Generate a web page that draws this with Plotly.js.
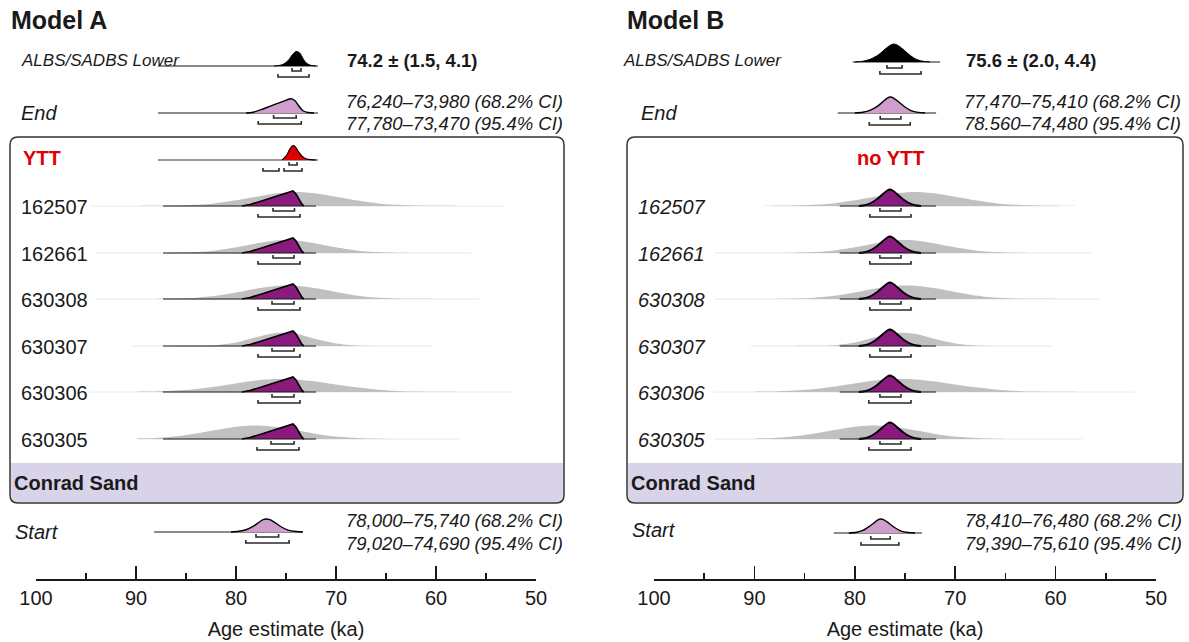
<!DOCTYPE html>
<html><head><meta charset="utf-8">
<script src="https://cdn.plot.ly/plotly-3.0.1.min.js"></script>
<style>html,body{margin:0;padding:0;background:#fff}#chart{width:1189px;height:642px}</style>
</head><body><div id="chart"></div>
<script>
// ================= DATA (ages in ka; densities relative) =================
const sampleNames = ['162507', '162661', '630308', '630307', '630306', '630305'];
const majorTicks = [100, 90, 80, 70, 60, 50];
const minorTicks = [95, 85, 75, 65, 55];

// Grey likelihoods of the six samples, read at these ages
const likKa      = [90, 88, 86, 84, 82, 80, 78, 76, 74, 72, 70, 68, 66, 64, 62, 60, 58, 56, 54];
const lik162507  = [0, .01, .03, .08, .19, .38, .62, .84, .93, .84, .62, .38, .19, .08, .03, .01, .004, .002, 0];
const lik162661  = [0, .003, .016, .06, .17, .38, .64, .84, .84, .64, .38, .17, .06, .016, .004, .001, 0, 0, 0];
const lik630308  = [0, .008, .03, .09, .22, .44, .69, .87, .88, .71, .47, .24, .10, .036, .009, .002, 0, 0, 0];
const lik630307  = [0, 0, .001, .009, .057, .23, .58, .87, .81, .46, .16, .034, .005, 0, 0, 0, 0, 0, 0];
const lik630306  = [.014, .04, .10, .20, .37, .57, .76, .86, .84, .70, .50, .31, .17, .074, .029, .01, .003, 0, 0];
const lik630305  = [.023, .072, .18, .37, .60, .82, .90, .80, .58, .34, .16, .064, .021, .005, 0, 0, 0, 0, 0];
const likTailA   = [[94.6, 53.2], [94.0, 56.5], [94.0, 55.7], [90.3, 60.3], [94.6, 52.3], [89.8, 57.6]];
const likTailB   = [[88.3, 59.6], [94.0, 56.5], [94.0, 55.6], [90.4, 60.4], [94.0, 52.2], [94.0, 57.4]];

// ---- Model A ----
const albsKaA  = [76.2, 75.4, 74.8, 74.4, 74.1, 73.9, 73.6, 73.3, 73.0, 72.6, 72.0];
const albsA    = [0, .08, .35, .72, .93, .97, .85, .50, .22, .06, 0];
const albsCiA  = [[74.4, 73.5], [75.8, 72.7]];
const albsTextA = '74.2 ± (1.5, 4.1)';
const endKaA   = [79.0, 78.3, 77.5, 76.5, 75.5, 74.9, 74.5, 74.1, 73.7, 73.3, 72.8, 72.2];
const endA     = [0, .05, .22, .48, .72, .88, .95, .82, .45, .15, .03, 0];
const endCiA   = [[76.24, 73.98], [77.78, 73.47]];
const endTextA = ['76,240–73,980 (68.2% CI)', '77,780–73,470 (95.4% CI)'];
const yttKaA   = [75.4, 74.9, 74.6, 74.35, 74.1, 73.8, 73.4, 73.0, 72.5, 72.0];
const yttA     = [0, .35, .75, .95, .90, .60, .25, .08, .02, 0];
const yttCi68A = [[74.7, 73.9]];
const yttCi95A = [[77.3, 75.7], [75.2, 73.4]];
const postKaA  = [79.4, 78.6, 77.6, 76.6, 75.6, 75.0, 74.6, 74.3, 74.0, 73.7, 73.4, 73.2];
const postA    = [0, .10, .30, .52, .74, .88, .97, 1.0, .80, .42, .10, 0];
const ci68A    = [[76.3, 74.15], [76.3, 74.2], [76.4, 74.2], [76.4, 74.2], [76.4, 74.2], [76.5, 74.2]];
const ci95A    = [[77.8, 73.6], [77.8, 73.6], [77.8, 73.6], [77.8, 73.6], [77.8, 73.6], [77.9, 73.7]];
const startKaA = [80.5, 79.7, 79.0, 78.3, 77.7, 77.3, 76.95, 76.6, 76.1, 75.5, 74.8, 74.0, 73.3];
const startA   = [0, .05, .15, .38, .65, .82, .87, .82, .62, .35, .13, .03, 0];
const startCiA = [[78.00, 75.74], [79.02, 74.69]];
const startTextA = ['78,000–75,740 (68.2% CI)', '79,020–74,690 (95.4% CI)'];

// ---- Model B ----
const albsKaB  = [80.0, 79.2, 78.4, 77.6, 77.0, 76.5, 76.1, 75.7, 75.2, 74.6, 74.0, 73.3, 72.5];
const albsB    = [0, .05, .20, .50, .85, 1.10, 1.20, 1.10, .85, .50, .22, .06, 0];
const albsCiB  = [[76.8, 75.3], [77.5, 73.4]];
const albsTextB = '75.6 ± (2.0, 4.4)';
const endKaB   = [80.0, 79.2, 78.5, 77.8, 77.2, 76.8, 76.45, 76.1, 75.6, 75.0, 74.4, 73.7, 73.0];
const endB     = [0, .05, .17, .42, .75, .98, 1.07, .98, .72, .40, .16, .04, 0];
const endCiB   = [[77.47, 75.41], [78.56, 74.48]];
const endTextB = ['77,470–75,410 (68.2% CI)', '78.560–74,480 (95.4% CI)'];
const postKaB  = [79.6, 79.0, 78.4, 77.8, 77.2, 76.8, 76.5, 76.2, 75.8, 75.2, 74.6, 74.0, 73.4];
const postB    = [0, .05, .20, .45, .80, 1.02, 1.10, 1.02, .80, .45, .20, .05, 0];
const ci68B    = [[77.5, 75.4], [77.5, 75.4], [77.5, 75.4], [77.5, 75.4], [77.5, 75.4], [77.5, 75.4]];
const ci95B    = [[78.5, 74.4], [78.5, 74.4], [78.5, 74.4], [78.5, 74.4], [78.6, 74.4], [78.6, 74.4]];
const startKaB = [80.6, 79.8, 79.2, 78.6, 78.0, 77.7, 77.4, 77.1, 76.6, 76.0, 75.4, 74.7, 74.0];
const startB   = [0, .05, .17, .42, .72, .88, .93, .88, .65, .35, .13, .03, 0];
const startCiB = [[78.41, 76.48], [79.39, 75.61]];
const startTextB = ['78,410–76,480 (68.2% CI)', '79,390–75,610 (95.4% CI)'];

const likelihoods = [lik162507, lik162661, lik630308, lik630307, lik630306, lik630305];

// ================= LAYOUT / STYLE =================
const W = 1189, H = 642, AXIS_Y = 579, U = 15;
const FONT = 'Liberation Sans, Arial, Helvetica, sans-serif';
const C = {grey: '#c0c0c0', tail: '#e8e8e8', purple: '#8b1a7e', pink: '#d09ecc', red: '#e00000',
           band: '#d8d3e8', ink: '#1a1a1a', bracket: '#2a2a2a'};
const P = x => x / W;
const traces = [];
const annotations = [];
const shapes = [];

function curve(xa, ka, h, base, fill, line, lw, shape) {
  const x = [ka[0]].concat(ka, [ka[ka.length - 1]]);
  const y = [base].concat(h.map(d => base - d * U), [base]);
  traces.push({type: 'scatter', mode: 'lines', xaxis: xa, yaxis: 'y', x: x, y: y,
    fill: 'toself', fillcolor: fill,
    line: {color: line || 'rgba(0,0,0,0)', width: lw || 0, shape: shape || 'spline', smoothing: 0.8},
    hoverinfo: 'skip', showlegend: false});
}
function hline(xa, range, y, color, w) {
  traces.push({type: 'scatter', mode: 'lines', xaxis: xa, yaxis: 'y', x: [range[0], range[1]], y: [y, y],
    line: {color: color, width: w}, hoverinfo: 'skip', showlegend: false});
}
function brackets(xa, ranges, y) {
  const x = [], yy = [];
  ranges.forEach(r => { x.push(r[0], r[0], r[1], r[1], null); yy.push(y - 3, y, y, y - 3, null); });
  traces.push({type: 'scatter', mode: 'lines', xaxis: xa, yaxis: 'y', x: x, y: yy,
    line: {color: C.bracket, width: 1.6}, hoverinfo: 'skip', showlegend: false});
}
function label(xPx, y, text, size, color, anchor) {
  annotations.push({xref: 'paper', yref: 'y', x: P(xPx), y: y, text: text, showarrow: false,
    xanchor: anchor || 'left', yanchor: 'middle', borderpad: 0,
    font: {family: FONT, size: size, color: color || C.ink}});
}
function roundedPath(l, r, t, b, rad, topRound) {
  const tr = topRound ? rad : 0;
  return `M ${P(l + tr)},${t} L ${P(r - tr)},${t} Q ${P(r)},${t} ${P(r)},${t + tr} ` +
         `L ${P(r)},${b - rad} Q ${P(r)},${b} ${P(r - rad)},${b} L ${P(l + rad)},${b} ` +
         `Q ${P(l)},${b} ${P(l)},${b - rad} L ${P(l)},${t + tr} Q ${P(l)},${t} ${P(l + tr)},${t} Z`;
}
function panelBox(l, r) {
  shapes.push({type: 'path', xref: 'paper', yref: 'y', path: roundedPath(l + 1, r - 1, 463, 502, 7, false),
    layer: 'below', fillcolor: C.band, line: {width: 0}});
  shapes.push({type: 'path', xref: 'paper', yref: 'y', path: roundedPath(l, r, 137, 503, 8, true),
    layer: 'above', fillcolor: 'rgba(0,0,0,0)', line: {color: '#333', width: 1.5}});
}

// row baselines (pixels from the top)
const rowsA = {albs: 66, end: 113, ytt: 160, samples: [206, 253, 299, 346, 392, 439], start: 532};
const rowsB = {albs: 62, end: 113, samples: [206, 253, 299, 346, 392, 439], start: 533};
const IN = 5, OUT = 11;

panelBox(10, 564);
panelBox(627, 1183);

// ---------- Model A ----------
(function () {
  const xa = 'x', R = rowsA;
  hline(xa, [87.8, 71.8], R.albs, C.ink, 1.2);
  curve(xa, albsKaA, albsA, R.albs, '#000', '#000', 1, 'spline');
  brackets(xa, [albsCiA[0]], R.albs + IN); brackets(xa, [albsCiA[1]], R.albs + OUT);
  hline(xa, [87.8, 71.8], R.end, C.ink, 1.2);
  curve(xa, endKaA, endA, R.end, C.pink, '#000', 1.4, 'spline');
  brackets(xa, [endCiA[0]], R.end + IN); brackets(xa, [endCiA[1]], R.end + OUT);
  hline(xa, [87.8, 71.8], R.ytt, '#777', 1.4);
  curve(xa, yttKaA, yttA, R.ytt, C.red, '#000', 1.2, 'spline');
  brackets(xa, yttCi68A, R.ytt + IN); brackets(xa, yttCi95A, R.ytt + OUT);
  sampleNames.forEach((n, i) => {
    const y = R.samples[i];
    hline(xa, likTailA[i], y, C.tail, 1);
    curve(xa, likKa, likelihoods[i], y, C.grey, null, 0, 'spline');
    curve(xa, postKaA, postA, y, C.purple, '#000', 1.7, 'linear');
    hline(xa, [87.3, 72.0], y, C.ink, 1.2);
    brackets(xa, [ci68A[i]], y + IN); brackets(xa, [ci95A[i]], y + OUT);
    label(20, y + 1, n, 20);
  });
  hline(xa, [88.2, 73.4], R.start, C.ink, 1.2);
  curve(xa, startKaA, startA, R.start, C.pink, '#000', 1.4, 'spline');
  brackets(xa, [startCiA[0]], R.start + IN); brackets(xa, [startCiA[1]], R.start + OUT);

  label(10, 20, '<b>Model A</b>', 25);
  label(20, 60, '<i>ALBS/SADBS Lower</i>', 17);
  label(346, 60, '<b>' + albsTextA + '</b>', 18.5);
  label(20, 113, '<i>End</i>', 20);
  label(345, 101, '<i>' + endTextA[0] + '</i>', 18.5);
  label(345, 123, '<i>' + endTextA[1] + '</i>', 18.5);
  label(22, 158, '<b>YTT</b>', 20, C.red);
  label(13, 483, '<b>Conrad Sand</b>', 20);
  label(14, 532, '<i>Start</i>', 20);
  label(345, 520, '<i>' + startTextA[0] + '</i>', 18.5);
  label(345, 543, '<i>' + startTextA[1] + '</i>', 18.5);
})();

// ---------- Model B ----------
(function () {
  const xa = 'x2', R = rowsB;
  hline(xa, [80.2, 71.5], R.albs, C.ink, 1.2);
  curve(xa, albsKaB, albsB, R.albs, '#000', '#000', 1, 'spline');
  brackets(xa, [albsCiB[0]], R.albs + 6); brackets(xa, [albsCiB[1]], R.albs + 12);
  hline(xa, [81.7, 71.9], R.end, C.ink, 1.2);
  curve(xa, endKaB, endB, R.end, C.pink, '#000', 1.4, 'spline');
  brackets(xa, [endCiB[0]], R.end + 6); brackets(xa, [endCiB[1]], R.end + 12);
  sampleNames.forEach((n, i) => {
    const y = R.samples[i];
    hline(xa, likTailB[i], y, C.tail, 1);
    curve(xa, likKa, likelihoods[i], y, C.grey, null, 0, 'spline');
    curve(xa, postKaB, postB, y, C.purple, '#000', 1.9, 'spline');
    hline(xa, [81.5, 71.9], y, C.ink, 1.2);
    brackets(xa, [ci68B[i]], y + IN); brackets(xa, [ci95B[i]], y + OUT);
    label(637, y + 1, '<i>' + n + '</i>', 20);
  });
  hline(xa, [82.1, 73.3], R.start, C.ink, 1.2);
  curve(xa, startKaB, startB, R.start, C.pink, '#000', 1.4, 'spline');
  brackets(xa, [startCiB[0]], R.start + 6); brackets(xa, [startCiB[1]], R.start + 12);

  label(626, 20, '<b>Model B</b>', 25);
  label(622, 60, '<i>ALBS/SADBS Lower</i>', 17);
  label(965, 60, '<b>' + albsTextB + '</b>', 18.5);
  label(640, 113, '<i>End</i>', 20);
  label(963, 101, '<i>' + endTextB[0] + '</i>', 18.5);
  label(963, 123, '<i>' + endTextB[1] + '</i>', 18.5);
  label(890, 158, '<b>no YTT</b>', 20, C.red, 'center');
  label(630, 483, '<b>Conrad Sand</b>', 20);
  label(631, 530, '<i>Start</i>', 20);
  label(964, 520, '<i>' + startTextB[0] + '</i>', 18.5);
  label(964, 543, '<i>' + startTextB[1] + '</i>', 18.5);
})();

function xAxis(domain) {
  return {domain: domain, anchor: 'y', range: [100, 50], fixedrange: true,
    showgrid: false, zeroline: false, showline: true, linecolor: C.ink, linewidth: 1.6,
    tickmode: 'array', tickvals: majorTicks, ticktext: majorTicks.map(String),
    ticks: 'inside', ticklen: 13, tickwidth: 1.6, tickcolor: C.ink,
    tickfont: {family: FONT, size: 20, color: C.ink},
    minor: {tickmode: 'array', tickvals: minorTicks, ticks: 'inside', ticklen: 6, tickwidth: 1.6, tickcolor: C.ink, showgrid: false},
    title: {text: 'Age estimate (ka)', font: {family: FONT, size: 20, color: C.ink}, standoff: 14},
    automargin: false};
}

const layout = {
  width: W, height: H,
  margin: {l: 0, r: 0, t: 0, b: H - AXIS_Y, autoexpand: false},
  paper_bgcolor: '#fff', plot_bgcolor: 'rgba(0,0,0,0)',
  showlegend: false,
  xaxis: xAxis([36 / W, 536 / W]),
  xaxis2: xAxis([654 / W, 1156 / W]),
  yaxis: {domain: [0, 1], range: [AXIS_Y, 0], visible: false, fixedrange: true, anchor: 'x'},
  shapes: shapes,
  annotations: annotations,
  font: {family: FONT}
};

Plotly.newPlot('chart', traces, layout, {staticPlot: true, displayModeBar: false});
</script>
</body></html>
